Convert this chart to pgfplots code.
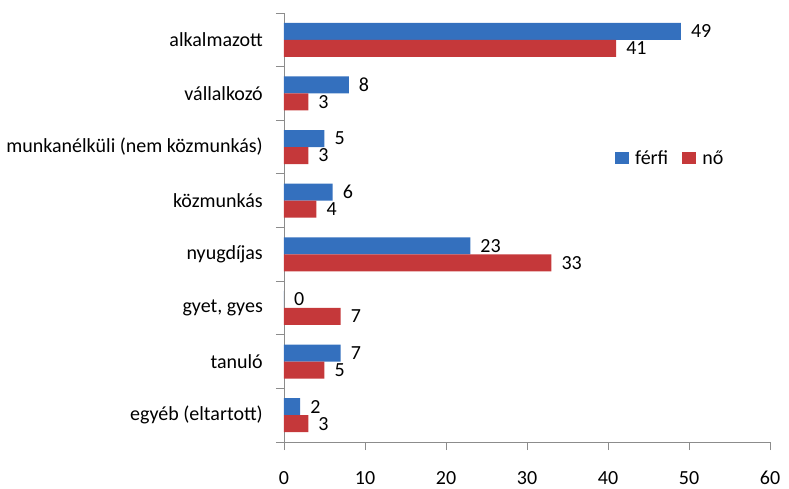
\documentclass[border=0pt]{standalone}
\usepackage{pgfplots}
\pgfplotsset{compat=1.18}
\usepackage{fontspec}
\setmainfont{Carlito}
\newcommand\f{\fontsize{20}{24}\selectfont}
\definecolor{bluebar}{HTML}{3470BE}
\definecolor{redbar}{HTML}{C5383A}
\definecolor{axgray}{HTML}{8C8C8C}
\begin{document}
\begin{tikzpicture}
\path[use as bounding box] (-284pt,-46pt) rectangle (505pt,442pt);
\begin{axis}[
  at={(0pt,0pt)}, anchor=south west,
  scale only axis, width=486pt, height=429pt,
  xmin=0, xmax=60, ymin=-0.5, ymax=7.5,
  xbar, bar width=17pt,
  axis x line*=bottom, axis y line*=left,
  axis line style={axgray, line width=0.9pt},
  tick style={axgray, line width=0.9pt},
  tick align=outside, major tick length=8pt,
  xtick={0,10,...,60},
  ytick={-0.5,0.5,...,7.5},
  y tick label as interval,
  yticklabels={egyéb (eltartott), tanuló, {gyet, gyes}, nyugdíjas, közmunkás, munkanélküli (nem közmunkás), vállalkozó, alkalmazott},
  /pgf/number format/assume math mode=true,
  xticklabel shift=21pt,
  xticklabel style={font=\f, inner sep=0pt, text depth=0pt, text height=13pt},
  yticklabel style={font=\f, anchor=east, inner sep=0pt, xshift=-13pt},
  nodes near coords,
  nodes near coords style={font=\f, anchor=west, inner sep=0pt, xshift=10pt, black},
  legend style={at={(rel axis cs:0.681,0.662)}, anchor=west, draw=none, fill=none,
    font=\f, legend columns=2, /tikz/every odd column/.style={column sep=4pt},
    /tikz/every even column/.style={column sep=12pt}, inner sep=0pt},
  legend image code/.code={\fill[#1] (0pt,-6pt) rectangle (14pt,6pt);},
]
\addplot[draw=none, fill=bluebar, bar shift=8.5pt] coordinates {
(49,7) (8,6) (5,5) (6,4) (23,3) (0,2) (7,1) (2,0)};
\addplot[draw=none, fill=redbar, bar shift=-8.5pt] coordinates {
(41,7) (3,6) (3,5) (4,4) (33,3) (7,2) (5,1) (3,0)};
\legend{férfi, nő}
\end{axis}
\end{tikzpicture}
\end{document}
